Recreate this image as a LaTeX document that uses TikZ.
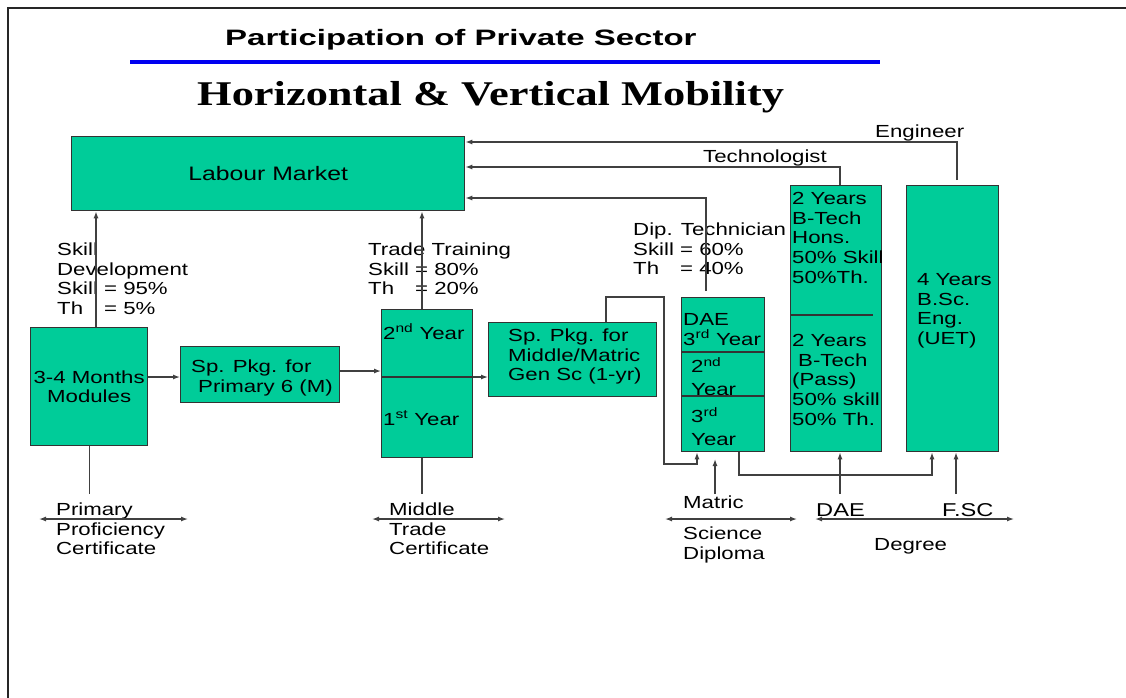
\documentclass[tikz,border=0pt]{standalone}
\usepackage{fontspec}
\setmainfont{Liberation Sans}
\newfontfamily\bodyfont[FakeStretch=1.27]{Liberation Sans}
\newfontfamily\titlefont[FakeStretch=1.48]{Liberation Sans}
\newfontfamily\headfont[FakeStretch=1.28]{Liberation Serif}
\usetikzlibrary{arrows.meta,calc}
\definecolor{boxgreen}{HTML}{00CC99}
\definecolor{linegray}{HTML}{404040}
\definecolor{titleblue}{HTML}{0000F0}
\newcommand\mystrut{\rule{0pt}{13pt}}
\newcommand\thfix{\rlap{Th}\phantom{Skill}}
\begin{document}
\begin{tikzpicture}[x=1pt,y=-1pt,
  box/.style={draw=black!80, fill=boxgreen, line width=1.3pt, inner sep=0pt, anchor=north west},
  boxline/.style={draw=black!80, line width=1.3pt},
  txt/.style={inner sep=0pt, anchor=north west, align=left, font=\bodyfont\fontsize{17.5}{19.8}\selectfont},
  lbl/.style={inner sep=0pt, anchor=base west, font=\bodyfont\fontsize{17.5}{19.8}\selectfont},
  biglbl/.style={inner sep=0pt, anchor=base west, font=\bodyfont\fontsize{18.6}{20}\selectfont},
  conn/.style={draw=linegray, line width=1.3pt},
  arr/.style={conn, -{Latex[length=7pt,width=5pt]}},
  darr/.style={conn, {Latex[length=7pt,width=5pt]}-{Latex[length=7pt,width=5pt]}},
]
\useasboundingbox (0,0) rectangle (1126,698);
\fill[white] (0,0) rectangle (1126,698);
% frame
\draw[line width=2pt, black!85] (8,698) -- (8,8) -- (1126,8);

% titles
\node[inner sep=0pt, anchor=base west, font=\titlefont\bfseries\fontsize{22.3}{26}\selectfont] (title) at (225,46) {Participation of Private Sector};
\draw[titleblue, line width=4pt] (130,62) -- (880,62);
\node[inner sep=0pt, anchor=base west, font=\headfont\bfseries\fontsize{34.7}{40}\selectfont] (head) at (197,106) {Horizontal \& Vertical Mobility};

% boxes
\node[box, minimum width=393pt, minimum height=74pt, font=\bodyfont\fontsize{19.5}{22}\selectfont] (lm) at (71,136) {Labour Market};
\node[box, minimum width=117pt, minimum height=118pt, align=center, font=\bodyfont\fontsize{17.5}{19}\selectfont] (mod) at (30,327) {3-4 Months\\Modules};
\node[box, minimum width=159pt, minimum height=56pt] (sp1) at (180,346) {};
\node[box, minimum width=91pt, minimum height=148pt] (mid) at (381,309) {};
\node[box, minimum width=168pt, minimum height=74pt] (sp2) at (488,322) {};
\node[box, minimum width=83pt, minimum height=154pt] (dae) at (681,297) {};
\node[box, minimum width=91pt, minimum height=266pt] (btech) at (790,185) {};
\node[box, minimum width=92pt, minimum height=266pt] (bsc) at (906,185) {};

% dividers inside boxes
\draw[boxline] ($(mid.north west)+(0,68)$) -- ($(mid.north east)+(0,68)$);
\draw[boxline] ($(dae.north west)+(0,55)$) -- ($(dae.north east)+(0,55)$);
\draw[boxline] ($(dae.north west)+(0,99)$) -- ($(dae.north east)+(0,99)$);
\draw[boxline] ($(btech.north west)+(0,130)$) -- ($(btech.north west)+(83,130)$);

% box texts
\node[txt] (sp1txt) at (191,359) {\mystrut Sp. Pkg. for\\\hspace*{7pt}Primary 6 (M)};
\node[lbl] (y2nd) at (383,339) {2\textsuperscript{nd} Year};
\node[lbl] (y1st) at (383,425) {1\textsuperscript{st} Year};
\node[txt] (sp2txt) at (508,328) {\mystrut Sp. Pkg. for\\Middle/Matric\\Gen Sc (1-yr)};
\node[txt] (daetxt) at (683,312) {\mystrut DAE\\3\textsuperscript{rd} Year};
\node[txt] (dae2) at (691,357) {\mystrut 2\textsuperscript{nd}\\[3pt]Year};
\node[txt] (dae3) at (691,407) {\mystrut 3\textsuperscript{rd}\\[3pt]Year};
\node[txt] (honstxt) at (792,191) {\mystrut 2 Years\\B-Tech\\Hons.\\50\% Skill\\50\%Th.};
\node[txt] (passtxt) at (792,333) {\mystrut 2 Years\\\hspace*{6pt}B-Tech\\(Pass)\\50\% skill\\50\% Th.};
\node[txt] (bsctxt) at (917,272) {\mystrut 4 Years\\B.Sc.\\Eng.\\(UET)};

% side labels
\node[txt] (sdtxt) at (57,242) {\mystrut Skill\\Development\\Skill = 95\%\\\thfix\ = 5\%};
\node[txt] (tttxt) at (368,242) {\mystrut Trade Training\\Skill = 80\%\\\thfix\ = 20\%};
\node[txt] (dttxt) at (633,222) {\mystrut Dip. Technician\\Skill = 60\%\\\thfix\ = 40\%};
\node[lbl] (englbl) at (875,138) {Engineer};
\node[lbl] (techlbl) at (703,162) {Technologist};

% bottom labels
\node[txt] (ppc) at (56,502) {\mystrut Primary\\Proficiency\\Certificate};
\node[txt] (mtc) at (389,502) {\mystrut Middle\\Trade\\Certificate};
\node[lbl] (matric) at (683,508) {Matric};
\node[txt] (scd) at (683,526) {\mystrut Science\\Diploma};
\node[biglbl] (daelbl) at (816,516) {DAE};
\node[biglbl] (fsclbl) at (942,516) {F.SC};
\node[lbl] (degree) at (874,550) {Degree};

% helper coordinates
\coordinate (xsd) at (96,0);
\coordinate (xtt) at (422,0);
\coordinate (ydt) at (0,198);
\coordinate (dtstart) at (706,291);
\coordinate (yte) at (0,167);
\coordinate (xte) at (840,0);
\coordinate (yen) at (0,142);
\coordinate (enstart) at (957,180);
\coordinate (y1) at (0,377);
\coordinate (y2) at (0,371);
\coordinate (xs2) at (606,0);
\coordinate (k1) at (664,297);
\coordinate (k2) at (697,464);
\coordinate (mat1) at (715,494);
\coordinate (mat2) at (715,459);
\coordinate (xd) at (739,0);
\coordinate (k3) at (932,475);
\coordinate (ybot) at (0,494);
\coordinate (xfs) at (956,0);
\coordinate (d1a) at (39,519);
\coordinate (d1b) at (188,519);
\coordinate (d2a) at (372,519);
\coordinate (d2b) at (505,519);
\coordinate (d3a) at (665,519);
\coordinate (d3b) at (797,519);
\coordinate (d4a) at (815,519);
\coordinate (d4b) at (1014,519);

% connectors to labour market
\draw[arr] (xsd |- mod.north) -- (xsd |- lm.south);
\draw[arr] (xtt |- mid.north) -- (xtt |- lm.south);
\draw[arr] (dtstart) |- (ydt -| lm.east);
\draw[arr] (xte |- btech.north) |- (yte -| lm.east);
\draw[arr] (enstart) |- (yen -| lm.east);

% horizontal flow
\draw[arr] (y1 -| mod.east) -- (y1 -| sp1.west);
\draw[arr] (y2 -| sp1.east) -- (y2 -| mid.west);
\draw[arr] (y1 -| mid.east) -- (y1 -| sp2.west);
\draw[arr] (xs2 |- sp2.north) |- (k1) |- (k2) -- (k2 |- dae.south);
\draw[arr] (mat1) -- (mat2);
\draw[arr] (xd |- dae.south) |- (k3) -- (k3 |- bsc.south);
\draw[arr] (xte |- ybot) -- (xte |- btech.south);
\draw[arr] (xfs |- ybot) -- (xfs |- bsc.south);

% drop lines
\draw[conn] (mod.south) -- (mod.south |- ybot);
\draw[conn] (xtt |- mid.south) -- (xtt |- ybot);

% level arrows
\draw[darr] (d1a) -- (d1b);
\draw[darr] (d2a) -- (d2b);
\draw[darr] (d3a) -- (d3b);
\draw[darr] (d4a) -- (d4b);
\end{tikzpicture}
\end{document}
